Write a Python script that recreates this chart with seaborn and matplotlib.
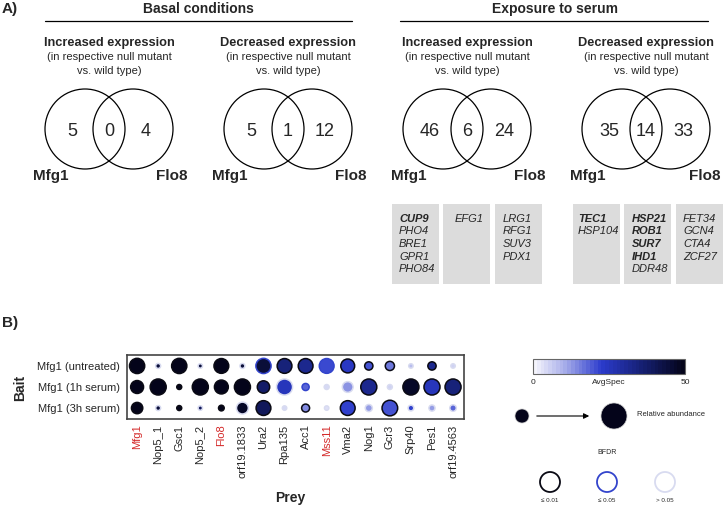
import matplotlib
matplotlib.use('Agg')
import matplotlib.pyplot as plt
import matplotlib.colorbar as mcolorbar
from matplotlib.colors import LinearSegmentedColormap, Normalize
from matplotlib.patches import Circle, Rectangle
import numpy as np
import pandas as pd
import seaborn as sns

sns.set_style('white')
plt.rcParams['font.family'] = ['Liberation Sans', 'DejaVu Sans']

# ---- panel A data ----
group_titles = ['Basal conditions', 'Exposure to serum']
venn_titles = ['Increased expression', 'Decreased expression',
               'Increased expression', 'Decreased expression']
venn_counts = [[5, 0, 4], [5, 1, 12], [46, 6, 24], [35, 14, 33]]
venn_sets = ['Mfg1', 'Flo8']

box_genes = [
    ['CUP9', 'PHO4', 'BRE1', 'GPR1', 'PHO84'],
    ['EFG1'],
    ['LRG1', 'RFG1', 'SUV3', 'PDX1'],
    ['TEC1', 'HSP104'],
    ['HSP21', 'ROB1', 'SUR7', 'IHD1', 'DDR48'],
    ['FET34', 'GCN4', 'CTA4', 'ZCF27'],
]
bold_genes = ['CUP9', 'TEC1', 'HSP21', 'ROB1', 'SUR7', 'IHD1']

# ---- panel B data ----
baits = ['Mfg1 (untreated)', 'Mfg1 (1h serum)', 'Mfg1 (3h serum)']
preys = ['Mfg1', 'Nop5_1', 'Gsc1', 'Nop5_2', 'Flo8', 'orf19.1833', 'Ura2',
         'Rpa135', 'Acc1', 'Mss11', 'Vma2', 'Nog1', 'Gcr3', 'Srp40', 'Pes1',
         'orf19.4563']
red_preys = ['Mfg1', 'Flo8', 'Mss11']

avgspec = [
    [50, 45, 50, 45, 50, 45, 45, 35, 32, 21, 24, 20, 16, 8, 32, 5],
    [50, 50, 50, 50, 50, 50, 38, 25, 18, 4, 13, 32, 5, 48, 25, 35],
    [50, 45, 50, 40, 50, 48, 40, 4, 14, 3, 22, 12, 20, 22, 12, 18],
]
abundance = [
    [0.85, 0.05, 0.85, 0.03, 0.80, 0.05, 0.85, 0.80, 0.80, 0.80, 0.70, 0.22, 0.28, 0.03, 0.22, 0.03],
    [0.60, 0.95, 0.05, 0.95, 0.70, 0.95, 0.55, 0.95, 0.15, 0.05, 0.40, 0.95, 0.05, 0.95, 0.95, 0.95],
    [0.45, 0.05, 0.05, 0.03, 0.08, 0.50, 0.80, 0.03, 0.20, 0.03, 0.80, 0.15, 0.90, 0.08, 0.10, 0.12],
]
bfdr = [
    [0.00, 0.20, 0.00, 0.20, 0.00, 0.20, 0.03, 0.00, 0.00, 0.03, 0.00, 0.00, 0.00, 0.20, 0.00, 0.20],
    [0.00, 0.00, 0.00, 0.00, 0.00, 0.00, 0.00, 0.20, 0.03, 0.20, 0.20, 0.00, 0.20, 0.00, 0.00, 0.00],
    [0.00, 0.20, 0.00, 0.20, 0.00, 0.20, 0.00, 0.20, 0.00, 0.20, 0.00, 0.20, 0.00, 0.20, 0.20, 0.20],
]
bfdr_labels = ['≤ 0.01', '≤ 0.05', '> 0.05']
bfdr_edges = ['#0a0a14', '#3344cc', '#d8dbf0']

rows = []
for bi, bait in enumerate(baits):
    for pi, prey in enumerate(preys):
        rows.append({'bait': bait, 'prey': prey, 'bait_idx': bi, 'prey_idx': pi,
                     'avgspec': avgspec[bi][pi], 'abundance': abundance[bi][pi],
                     'bfdr': bfdr[bi][pi]})
df = pd.DataFrame(rows)
df['bfdr_class'] = pd.cut(df['bfdr'], [-1, 0.01, 0.05, 1], labels=bfdr_labels)

cmap = LinearSegmentedColormap.from_list(
    'avgspec', [(0, '#f4f4fc'), (0.2, '#a8aeea'), (0.45, '#2b3bcc'),
                (0.7, '#17227a'), (1, '#04041a')])

fig = plt.figure(figsize=(7.23, 5.07), dpi=100)

# overlay axes in pixel coordinates for panel A and legends
ov = fig.add_axes([0, 0, 1, 1], zorder=-1)
ov.set_xlim(0, 723)
ov.set_ylim(507, 0)
ov.set_axis_off()

ov.text(2, 9, 'A)', fontsize=11, fontweight='bold', va='center')
ov.text(198, 9, group_titles[0], fontsize=10, fontweight='bold', ha='center', va='center')
ov.text(555, 9, group_titles[1], fontsize=10, fontweight='bold', ha='center', va='center')
ov.plot([45, 352], [21, 21], color='black', lw=0.9)
ov.plot([400, 708], [21, 21], color='black', lw=0.9)

venn_centers = [109, 288, 467, 646]
for c, title, counts in zip(venn_centers, venn_titles, venn_counts):
    ov.text(c, 43, title, fontsize=9.2, fontweight='bold', ha='center', va='center')
    ov.text(c, 57, '(in respective null mutant', fontsize=8, ha='center', va='center')
    ov.text(c, 71, 'vs. wild type)', fontsize=8, ha='center', va='center')
    ov.add_patch(Circle((c - 24, 129), 40, fill=False, ec='black', lw=0.9))
    ov.add_patch(Circle((c + 24, 129), 40, fill=False, ec='black', lw=0.9))
    for dx, n in zip([-37, 0, 37], counts):
        ov.text(c + dx, 131, str(n), fontsize=13, ha='center', va='center')
    ov.text(c - 58, 176, venn_sets[0], fontsize=11, fontweight='bold', ha='center', va='center')
    ov.text(min(c + 63, 705), 176, venn_sets[1], fontsize=11, fontweight='bold',
            ha='center', va='center')

box_lefts = [392, 443, 495, 573, 624, 676]
text_offsets = [7, 12, 8, 5, 8, 7]
for left, off, genes in zip(box_lefts, text_offsets, box_genes):
    ov.add_patch(Rectangle((left, 204), 47, 80, color='#dcdcdc', lw=0))
    for k, g in enumerate(genes):
        ov.text(left + off, 219 + k * 12.5, g, fontsize=8, style='italic',
                fontweight='bold' if g in bold_genes else 'normal', va='center')

# ---- panel B ----
ov.text(2, 323, 'B)', fontsize=11, fontweight='bold', va='center')
ov.text(20, 388, 'Bait', fontsize=10, fontweight='bold', rotation=90, ha='center', va='center')
ov.text(290, 498, 'Prey', fontsize=10, fontweight='bold', ha='center', va='center')

ax = fig.add_axes([127 / 723, 1 - 419 / 507, 337 / 723, 64 / 507])
for cls, ec in zip(bfdr_labels, bfdr_edges):
    sub = df[df['bfdr_class'] == cls]
    sns.scatterplot(data=sub, x='prey_idx', y='bait_idx', hue='avgspec', size='abundance',
                    palette=cmap, hue_norm=(0, 50), sizes=(6, 140), size_norm=(0, 1),
                    edgecolor=ec, linewidth=1.1, legend=False, ax=ax)
ax.set_xlim(-0.48, 15.52)
ax.set_ylim(2.52, -0.52)
ax.set_xticks(range(len(preys)))
ax.set_xticklabels(preys, rotation=90, fontsize=8)
ax.set_yticks(range(len(baits)))
ax.set_yticklabels(baits, fontsize=8)
for lbl in ax.get_xticklabels():
    if lbl.get_text() in red_preys:
        lbl.set_color('#d42a2a')
ax.tick_params(length=0)
ax.tick_params(axis='x', pad=4)
ax.tick_params(axis='y', pad=5)
ax.set_xlabel('')
ax.set_ylabel('')
for s in ax.spines.values():
    s.set_visible(True)
    s.set_color('#444444')
    s.set_linewidth(1.2)

# colour legend
cax = fig.add_axes([533 / 723, 1 - 374 / 507, 152 / 723, 15 / 507])
cb = mcolorbar.ColorbarBase(cax, cmap=cmap.resampled(40), norm=Normalize(0, 50),
                            orientation='horizontal')
cb.set_ticks([])
cb.outline.set_edgecolor('#666666')
cb.outline.set_linewidth(0.8)
ov.text(533, 383, '0', fontsize=6, ha='center', va='center')
ov.text(609, 383, 'AvgSpec', fontsize=6, ha='center', va='center')
ov.text(685, 383, '50', fontsize=6, ha='center', va='center')

# size legend
ov.add_patch(Circle((522, 416), 7, fc=cmap(1.0), ec='#cccccc', lw=0.5))
ov.add_patch(Circle((614, 416), 13, fc=cmap(1.0), ec='#cccccc', lw=0.5))
ov.annotate('', xy=(592, 416), xytext=(534, 416),
            arrowprops=dict(arrowstyle='-|>', color='black', lw=0.8, mutation_scale=8))
ov.text(637, 415, 'Relative abundance', fontsize=5.5, va='center')

# BFDR legend
ov.text(607, 453, 'BFDR', fontsize=5, ha='center', va='center')
for x, lab, ec in zip([550, 607, 665], bfdr_labels, bfdr_edges):
    ov.add_patch(Circle((x, 482), 10, fc='white', ec=ec, lw=1.3))
    ov.text(x, 500, lab, fontsize=4.5, ha='center', va='center')

fig.savefig('out.png', dpi=100)
